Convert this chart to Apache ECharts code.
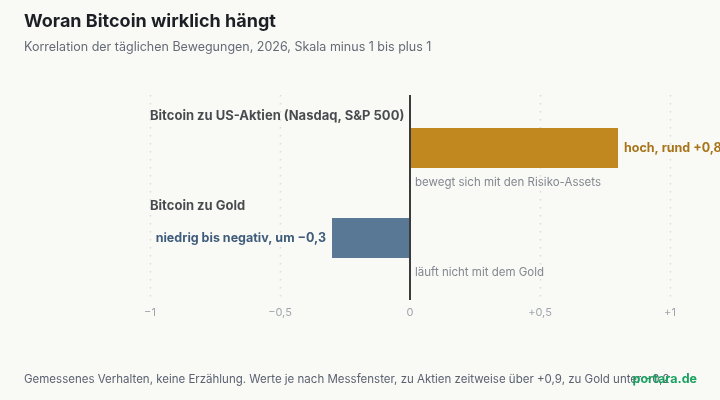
<!DOCTYPE html>
<html>
<head>
<meta charset="utf-8">
<script src="https://cdn.jsdelivr.net/npm/echarts@6/dist/echarts.min.js"></script>
<style>
html,body{margin:0;padding:0;background:#f9f9f6;font-family:Inter;}
#c{width:720px;height:400px;}
</style>
</head>
<body>
<div id="c"></div>
<script>
const categories = ['Bitcoin zu US-Aktien (Nasdaq, S&P 500)', 'Bitcoin zu Gold'];
const values = [0.8, -0.3];
const valueLabels = ['hoch, rund +0,8', 'niedrig bis negativ, um −0,3'];
const notes = ['bewegt sich mit den Risiko-Assets', 'läuft nicht mit dem Gold'];
const tickValues = [-1, -0.5, 0, 0.5, 1];
const tickLabels = ['−1', '−0,5', '0', '+0,5', '+1'];
const barColors = ['#c1881f', '#587896'];
const labelColors = ['#a8741a', '#3f5c7a'];

const FONT = 'Inter';

function draw() {
  const old = echarts.getInstanceByDom(document.getElementById('c'));
  if (old) old.dispose();
  const chart = echarts.init(document.getElementById('c'), null, {renderer: 'canvas'});
  const option = {
    backgroundColor: '#f9f9f6',
    animation: false,
    textStyle: {fontFamily: FONT},
    title: [
      {text: 'Woran Bitcoin wirklich hängt', left: 24, top: 13, padding: 0,
       textStyle: {fontFamily: FONT, fontSize: 18, fontWeight: 700, color: '#1c1f24'}},
      {text: 'Korrelation der täglichen Bewegungen, 2026, Skala minus 1 bis plus 1', left: 24, top: 41, padding: 0,
       textStyle: {fontFamily: FONT, fontSize: 12.5, fontWeight: 400, color: '#656b76'}},
      {text: 'Gemessenes Verhalten, keine Erzählung. Werte je nach Messfenster, zu Aktien zeitweise über +0,9, zu Gold unter −0,2', left: 24, top: 374, padding: 0,
       textStyle: {fontFamily: FONT, fontSize: 11.5, fontWeight: 400, color: '#5b6270'}},
      {text: 'portara.de', right: 23, top: 373, padding: 0, z: 10,
       textStyle: {fontFamily: FONT, fontSize: 12.5, fontWeight: 700, color: '#1aa160'}}
    ],
    grid: {left: 150, right: 50, top: 103, bottom: 117, containLabel: false},
    xAxis: {
      type: 'value', min: -1, max: 1, interval: 0.5,
      axisLine: {show: false}, axisTick: {show: false}, splitLine: {show: false},
      axisLabel: {
        margin: 24, fontSize: 11, color: '#a0a5ad', fontFamily: FONT,
        formatter: function (v) {
          const i = tickValues.findIndex(t => Math.abs(t - v) < 1e-9);
          return i >= 0 ? tickLabels[i] : '';
        }
      }
    },
    yAxis: {
      type: 'category', data: categories, inverse: true,
      axisLine: {show: false}, axisTick: {show: false}, splitLine: {show: false},
      axisLabel: {show: false}
    },
    series: [
      {
        type: 'bar', barWidth: 40,
        data: values.map((v, i) => ({
          value: v,
          itemStyle: {color: barColors[i]},
          label: {
            show: true, position: v >= 0 ? 'right' : 'left', distance: 6,
            formatter: valueLabels[i], color: labelColors[i],
            fontSize: 12.5, fontWeight: 700, fontFamily: FONT
          }
        }))
      },
      {
        type: 'scatter', symbolSize: 0, silent: true,
        data: values.map((v, i) => [0, i]),
        label: {
          show: true, position: 'right', distance: 5, offset: [0, 35],
          formatter: p => notes[p.dataIndex],
          fontSize: 11.5, color: '#656b76', fontFamily: FONT
        }
      },
      {
        type: 'scatter', symbolSize: 0, silent: true,
        data: categories.map((c, i) => [-1, i]),
        label: {
          show: true, position: 'right', distance: 0, offset: [0, -32],
          formatter: p => categories[p.dataIndex],
          fontSize: 13, fontWeight: 700, color: '#1c1f24', fontFamily: FONT
        }
      }
    ]
  };
  chart.setOption(option);

  const yTop = 95, yBot = 300;
  const graphics = [];
  tickValues.forEach(v => {
    const x = Math.round(chart.convertToPixel({xAxisIndex: 0}, v));
    if (v === 0) {
      graphics.push({type: 'line', z: 10, shape: {x1: x, y1: yTop, x2: x, y2: yBot},
        style: {stroke: '#3b3b3d', lineWidth: 2}});
    } else {
      graphics.push({type: 'line', z: -1, shape: {x1: x + 0.5, y1: yTop, x2: x + 0.5, y2: yBot},
        style: {stroke: '#dcdcd6', lineWidth: 1.5, lineDash: [1.5, 6.5]}});
    }
  });
  chart.setOption({graphic: graphics});
}
draw();
if (document.fonts && document.fonts.load) {
  Promise.all([
    document.fonts.load('700 17px Inter'),
    document.fonts.load('400 13px Inter')
  ]).then(draw).catch(() => {});
}
</script>
</body>
</html>
